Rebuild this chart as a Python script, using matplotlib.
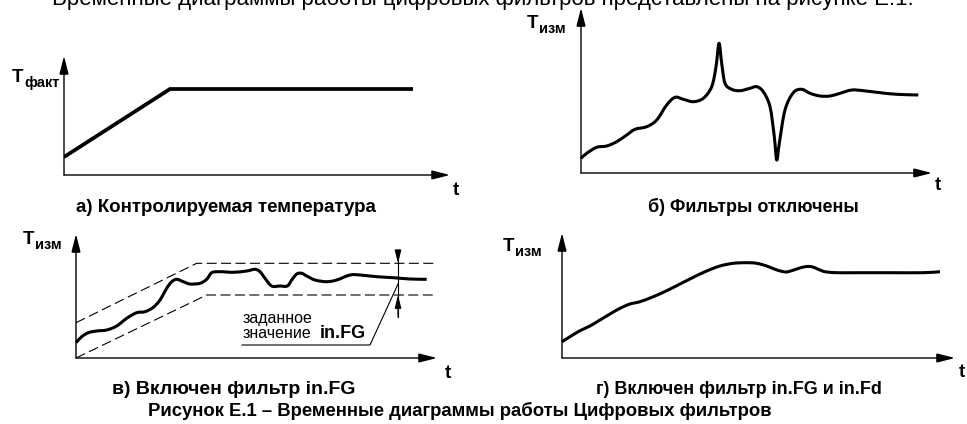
import matplotlib
matplotlib.use("Agg")
import numpy as np
import matplotlib.pyplot as plt
from matplotlib.patches import FancyArrowPatch, PathPatch
from matplotlib.path import Path

W, H = 967, 424
plt.rcParams['font.family'] = ['Liberation Sans', 'DejaVu Sans']

# а) controlled temperature: linear ramp, then hold
a_t = [0, 106, 349]
a_T = [18, 86, 86]

# б) measured temperature with filters off (spike and dip = noise)
b_t = [0, 5.7, 15.7, 25.7, 35.7, 45.7, 54, 65.7, 75.7, 85.7, 94, 102.3, 112.3,
       122.3, 130.7, 135, 138, 140.7, 144, 150.7, 159, 169, 175.7, 182.3, 189,
       193.3, 195.7, 198.3, 204, 212.3, 220.7, 229, 239, 249, 259, 270.7,
       282.3, 299, 315.7, 337.3]
b_T = [14.7, 19.7, 25.7, 27, 31.3, 38, 43.7, 46.3, 53, 68, 75.7, 73.7, 71.3,
       74.7, 86.3, 106.3, 129.7, 109.7, 89.7, 83.7, 82.3, 84.7, 86.3, 81.3, 66.3,
       36.3, 13, 29.7, 63, 80.3, 83.7, 79.7, 77, 77, 79.7, 83, 82.3, 80.3, 78.7, 78]

# в) in.FG filter on: measured curve and the band of allowed deviation
c_t = [0, 5.7, 12.3, 20.7, 30.7, 40.7, 50.7, 60.7, 69, 77.3, 84, 90.7, 95.7,
       100.7, 107.3, 114, 124, 130.7, 135.7, 144, 157.3, 170.7, 179, 184, 189,
       195.7, 204, 211.3, 215.7, 220.7, 225.7, 230.7, 239, 250.7, 260.7, 274,
       284, 300.7, 317.3, 334, 350.7]
c_T = [15.3, 21.3, 25.3, 27, 28, 32, 39.7, 45.3, 46.3, 50.7, 58, 69.7, 76.3,
       78.7, 76.3, 74, 74.7, 78.7, 85.3, 86.3, 85.7, 87, 88.7, 86.3, 79.7,
       72, 72, 72, 78, 84, 84.7, 82, 78, 76.3, 78, 83, 83, 81.3, 80.3, 79, 78.7]
band_hi_t = [0, 120.7, 360.7]
band_hi_T = [35.3, 94.7, 94.7]
band_lo_t = [0, 130.7, 360.7]
band_lo_T = [0, 63, 63]
fg_mark_t = 322
fg_leader_t = [322, 294, 166]
fg_leader_T = [74, 13, 13]

# г) in.FG and in.Fd filters on: smooth response
d_t = [0, 8, 18, 28, 38, 48, 58, 68, 78, 91.3, 104.7, 118, 131.3, 144.7, 158,
       171.3, 184.7, 194.7, 204.7, 213, 221.3, 226.3, 234.7, 243, 249.7, 256.3,
       263, 274.7, 294.7, 328, 361.3, 378]
d_T = [16.3, 21.3, 27.3, 32, 38, 44, 49.7, 54, 56.3, 61.3, 67.3, 74, 80.7, 87,
       92, 94.7, 95.3, 94.7, 92, 88.7, 86.3, 86.3, 89, 91.3, 91.3, 88.7, 86.3,
       85.3, 85.3, 85.3, 85.3, 86.3]

captions = ['а) Контролируемая температура', 'б) Фильтры отключены',
            'в) Включен фильтр in.FG', 'г) Включен фильтр in.FG и in.Fd']
title = 'Рисунок Е.1 – Временные диаграммы работы Цифровых фильтров'
intro = 'Временные диаграммы работы цифровых фильтров представлены на рисунке Е.1.'

fig = plt.figure(figsize=(W / 100, H / 100), dpi=100)


def fx(x):
    return x / W


def fy(y):
    return 1 - y / H


def arrow(ax, p0, p1, lw=1.0, hl=1.1, hw=0.28):
    ax.add_patch(FancyArrowPatch(
        p0, p1, arrowstyle=f'-|>,head_length={hl},head_width={hw}',
        mutation_scale=10, lw=lw, color='black', shrinkA=0, shrinkB=0,
        clip_on=False, joinstyle='miter'))


def smooth_curve(ax, t, T, lw):
    """Draw a smooth Bezier path (Catmull-Rom tangents) through the points."""
    p = np.column_stack([t, T]).astype(float)
    ext = np.vstack([p[0], p, p[-1]])
    verts = [p[0]]
    codes = [Path.MOVETO]
    for i in range(len(p) - 1):
        p0, p1, p2, p3 = ext[i], ext[i + 1], ext[i + 2], ext[i + 3]
        verts += [p1 + (p2 - p0) / 6, p2 - (p3 - p1) / 6, p2]
        codes += [Path.CURVE4] * 3
    ax.add_patch(PathPatch(Path(verts, codes), facecolor='none',
                           edgecolor='black', lw=lw, joinstyle='round',
                           capstyle='butt', clip_on=False))


def panel(x0, y0, xtip, ytip):
    """Axes in which one data unit is one pixel, origin at the axis corner."""
    w, h = xtip - x0, y0 - ytip
    ax = fig.add_axes([fx(x0), fy(y0), w / W, h / H])
    ax.set_xlim(0, w)
    ax.set_ylim(0, h)
    ax.axis('off')
    arrow(ax, (0, 0), (w, 0))
    arrow(ax, (0, 0), (0, h))
    return ax


def ylabel(x, y, sub):
    fig.text(fx(x), fy(y), 'T', fontsize=13.5, fontweight='bold',
             ha='left', va='baseline')
    fig.text(fx(x + 12), fy(y + 5), sub, fontsize=10.5, fontweight='bold',
             ha='left', va='baseline')


def tlabel(x, y):
    fig.text(fx(x), fy(y), 't', fontsize=13.5, fontweight='bold',
             ha='left', va='baseline')


# а)
ax_a = panel(64, 175, 450, 56)
ax_a.plot(a_t, a_T, lw=2.7, color='black', solid_joinstyle='miter',
          solid_capstyle='butt')
ylabel(12, 82, 'факт')
tlabel(453, 195)

# б)
ax_b = panel(581, 173, 932, 8)
smooth_curve(ax_b, b_t, b_T, 2.2)
ylabel(527, 28, 'изм')
tlabel(935, 190)

# в)
ax_c = panel(76, 358, 437, 234)
dash = dict(color='black', lw=0.8, dashes=(9, 4))
ax_c.plot(band_hi_t, band_hi_T, **dash)
ax_c.plot(band_lo_t, band_lo_T, **dash)
smooth_curve(ax_c, c_t, c_T, 2.2)
ax_c.plot([fg_mark_t, fg_mark_t], [103, 41], color='black', lw=0.8)
arrow(ax_c, (fg_mark_t, 103), (fg_mark_t, band_hi_T[-1]), lw=0.8, hl=0.8, hw=0.2)
arrow(ax_c, (fg_mark_t, 41), (fg_mark_t, band_lo_T[-1]), lw=0.8, hl=0.8, hw=0.2)
ax_c.plot(fg_leader_t, fg_leader_T, color='black', lw=0.8)
fig.text(fx(243), fy(323), 'заданное', fontsize=11.5, ha='left', va='baseline')
fig.text(fx(243), fy(338), 'значение', fontsize=11.5, ha='left', va='baseline')
fig.text(fx(320), fy(338), 'in.FG', fontsize=13, fontweight='bold',
         ha='left', va='baseline')
ylabel(23, 244, 'изм')
tlabel(445, 378)

# г)
ax_d = panel(562, 358, 955, 233)
smooth_curve(ax_d, d_t, d_T, 2.2)
ylabel(503, 251, 'изм')
tlabel(959, 377)

# captions
cap = dict(fontweight='bold', ha='left', va='center')
fig.text(fx(76), fy(208), captions[0], fontsize=13.5, **cap)
fig.text(fx(648), fy(207), captions[1], fontsize=13, **cap)
fig.text(fx(112), fy(390), captions[2], fontsize=14, **cap)
fig.text(fx(596), fy(390), captions[3], fontsize=13, **cap)
fig.text(fx(148), fy(411), title, fontsize=13.3, **cap)
fig.text(fx(52), fy(5), intro, fontsize=16, ha='left', va='baseline')

fig.savefig('out.png', dpi=100)
